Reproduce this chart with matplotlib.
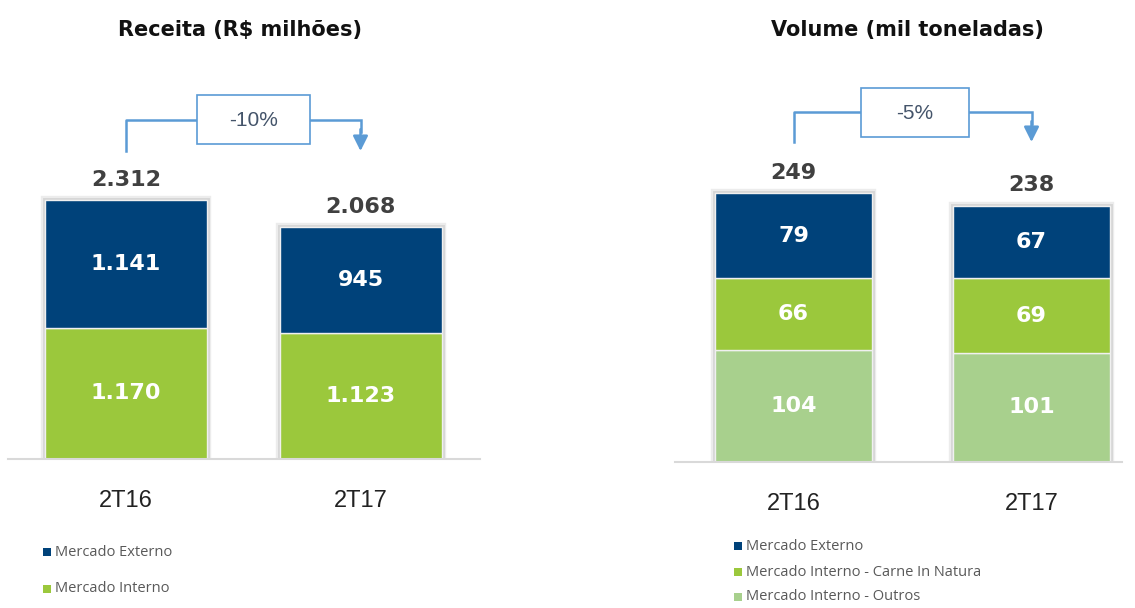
import matplotlib
matplotlib.use("Agg")
import matplotlib.pyplot as plt
from matplotlib.patches import Rectangle
import matplotlib.patheffects as pe

# ---- data ----
categories = ["2T16", "2T17"]

rev_interno = [1170, 1123]
rev_externo = [1141, 945]
rev_totals = ["2.312", "2.068"]
rev_interno_lbl = ["1.170", "1.123"]
rev_externo_lbl = ["1.141", "945"]
rev_change = "-10%"

vol_outros = [104, 101]
vol_natura = [66, 69]
vol_externo = [79, 67]
vol_totals = [249, 238]
vol_change = "-5%"

DARK = "#00427A"
GREEN = "#9BC83C"
LGREEN = "#A8D08D"
ARROW = "#5B9BD5"
TXT = "#404040"

W, H = 1135, 608
fig = plt.figure(figsize=(W / 100, H / 100), dpi=100)
plt.rcParams['font.family'] = ['DejaVu Sans']


def px_axes(x0, x1, ybase, ytop):
    return fig.add_axes([x0 / W, (H - ybase) / H, (x1 - x0) / W, (ybase - ytop) / H])


def style(ax):
    for s in ["top", "right", "left"]:
        ax.spines[s].set_visible(False)
    ax.spines["bottom"].set_color("#d9d9d9")
    ax.spines["bottom"].set_linewidth(1.5)
    ax.set_yticks([])
    ax.tick_params(axis="x", length=0, pad=22, labelsize=17, labelcolor="#222222")
    ax.set_xticks(range(len(categories)))
    ax.set_xticklabels(categories, family="Liberation Sans")


def stacked(ax, layers, colors, width):
    x = list(range(len(categories)))
    totals = [sum(v) for v in zip(*layers)]
    # soft shadow
    for xi, t in zip(x, totals):
        r = Rectangle((xi - width / 2, 0), width, t, facecolor="white", edgecolor="none", zorder=1)
        r.set_path_effects([pe.Stroke(linewidth=6, foreground="#ececec"),
                            pe.Stroke(linewidth=3.5, foreground="#d6d6d6"), pe.Normal()])
        ax.add_patch(r)
    bottom = [0] * len(x)
    for vals, c in zip(layers, colors):
        ax.bar(x, vals, width, bottom=bottom, color=c, edgecolor="#f0f0f0", linewidth=1.0, zorder=2)
        bottom = [b + v for b, v in zip(bottom, vals)]
    return totals


def bracket(ax, x0, x1, ystart, yh, box_x0, box_x1, box_h, text):
    ax.plot([x0, x0, box_x0], [ystart, yh, yh], color=ARROW, lw=1.8, clip_on=False, zorder=3)
    ax.plot([box_x1, x1, x1], [yh, yh, yh - (yh - ystart) * 0.4], color=ARROW, lw=1.8,
            clip_on=False, zorder=3, solid_joinstyle="miter")
    ax.annotate("", xy=(x1, ystart), xytext=(x1, yh - (yh - ystart) * 0.3),
                arrowprops=dict(arrowstyle="-|>,head_length=0.9,head_width=0.45", color=ARROW,
                                lw=1.8, shrinkA=0, shrinkB=0), annotation_clip=False)
    ax.add_patch(Rectangle((box_x0, yh - box_h / 2), box_x1 - box_x0, box_h, facecolor="white",
                           edgecolor=ARROW, lw=1.2, clip_on=False, zorder=4))
    ax.text((box_x0 + box_x1) / 2, yh - box_h * 0.02, text, ha="center", va="center", fontsize=15,
            color="#44546A", zorder=5, family="Liberation Sans")


# ---- left chart: receita ----
axL = px_axes(8, 480, 459, 60)
style(axL)
pxu = 234.5
axL.set_xlim(-(126 - 8) / pxu, 1 + (480 - 360.5) / pxu)
axL.set_ylim(0, 399 / 0.112)
wL = 162 / pxu
tL = stacked(axL, [rev_interno, rev_externo], [GREEN, DARK], wL)
for i in range(2):
    axL.text(i, rev_interno[i] / 2, rev_interno_lbl[i], ha="center", va="center", color="white",
             fontsize=16, fontweight="bold", zorder=5)
    axL.text(i, rev_interno[i] + rev_externo[i] / 2, rev_externo_lbl[i], ha="center", va="center",
             color="white", fontsize=16, fontweight="bold", zorder=5)
    axL.text(i, tL[i] + 90, rev_totals[i], ha="center", va="bottom", color=TXT,
             fontsize=16, fontweight="bold", zorder=5)
mL = max(tL)
bracket(axL, 0, 1.0, 1.19 * mL, 1.31 * mL, 0.303, 0.785, 437, rev_change)

# ---- right chart: volume ----
axR = px_axes(675, 1122, 462, 60)
style(axR)
pxr = 238
axR.set_xlim(-(793.5 - 675) / pxr, 1 + (1122 - 1031.5) / pxr)
axR.set_ylim(0, 402 / 1.08)
wR = 157 / pxr
tR = stacked(axR, [vol_outros, vol_natura, vol_externo], [LGREEN, GREEN, DARK], wR)
for i in range(2):
    axR.text(i, vol_outros[i] / 2, str(vol_outros[i]), ha="center", va="center", color="white",
             fontsize=16, fontweight="bold", zorder=5)
    axR.text(i, vol_outros[i] + vol_natura[i] / 2, str(vol_natura[i]), ha="center", va="center",
             color="white", fontsize=16, fontweight="bold", zorder=5)
    axR.text(i, vol_outros[i] + vol_natura[i] + vol_externo[i] / 2, str(vol_externo[i]),
             ha="center", va="center", color="white", fontsize=16, fontweight="bold", zorder=5)
    axR.text(i, vol_totals[i] + 9, str(vol_totals[i]), ha="center", va="bottom", color=TXT,
             fontsize=16, fontweight="bold", zorder=5)
mR = max(vol_totals)
bracket(axR, 0, 1.0, 1.19 * mR, 1.30 * mR, 0.284, 0.737, 45, vol_change)

# ---- titles ----
fig.text(240 / W, 1 - 30 / H, "Receita (R$ milhões)", ha="center", va="center", fontsize=15,
         fontweight="bold", color="#111111")
fig.text(907 / W, 1 - 30 / H, "Volume (mil toneladas)", ha="center", va="center", fontsize=15,
         fontweight="bold", color="#111111")

# ---- legends ----
def legend_item(x, y, color, label):
    fig.patches.append(Rectangle(((x - 4) / W, 1 - (y + 4) / H), 8 / W, 8 / H, facecolor=color,
                                 edgecolor="none", transform=fig.transFigure, figure=fig))
    fig.text((x + 8) / W, 1 - y / H, label, ha="left", va="center", fontsize=10.5,
             color="#595959", family="Open Sans")

legend_item(47, 552, DARK, "Mercado Externo")
legend_item(47, 589, GREEN, "Mercado Interno")
legend_item(738, 546, DARK, "Mercado Externo")
legend_item(738, 572, GREEN, "Mercado Interno - Carne In Natura")
legend_item(738, 597, LGREEN, "Mercado Interno - Outros")

fig.savefig("out.png", dpi=100)
